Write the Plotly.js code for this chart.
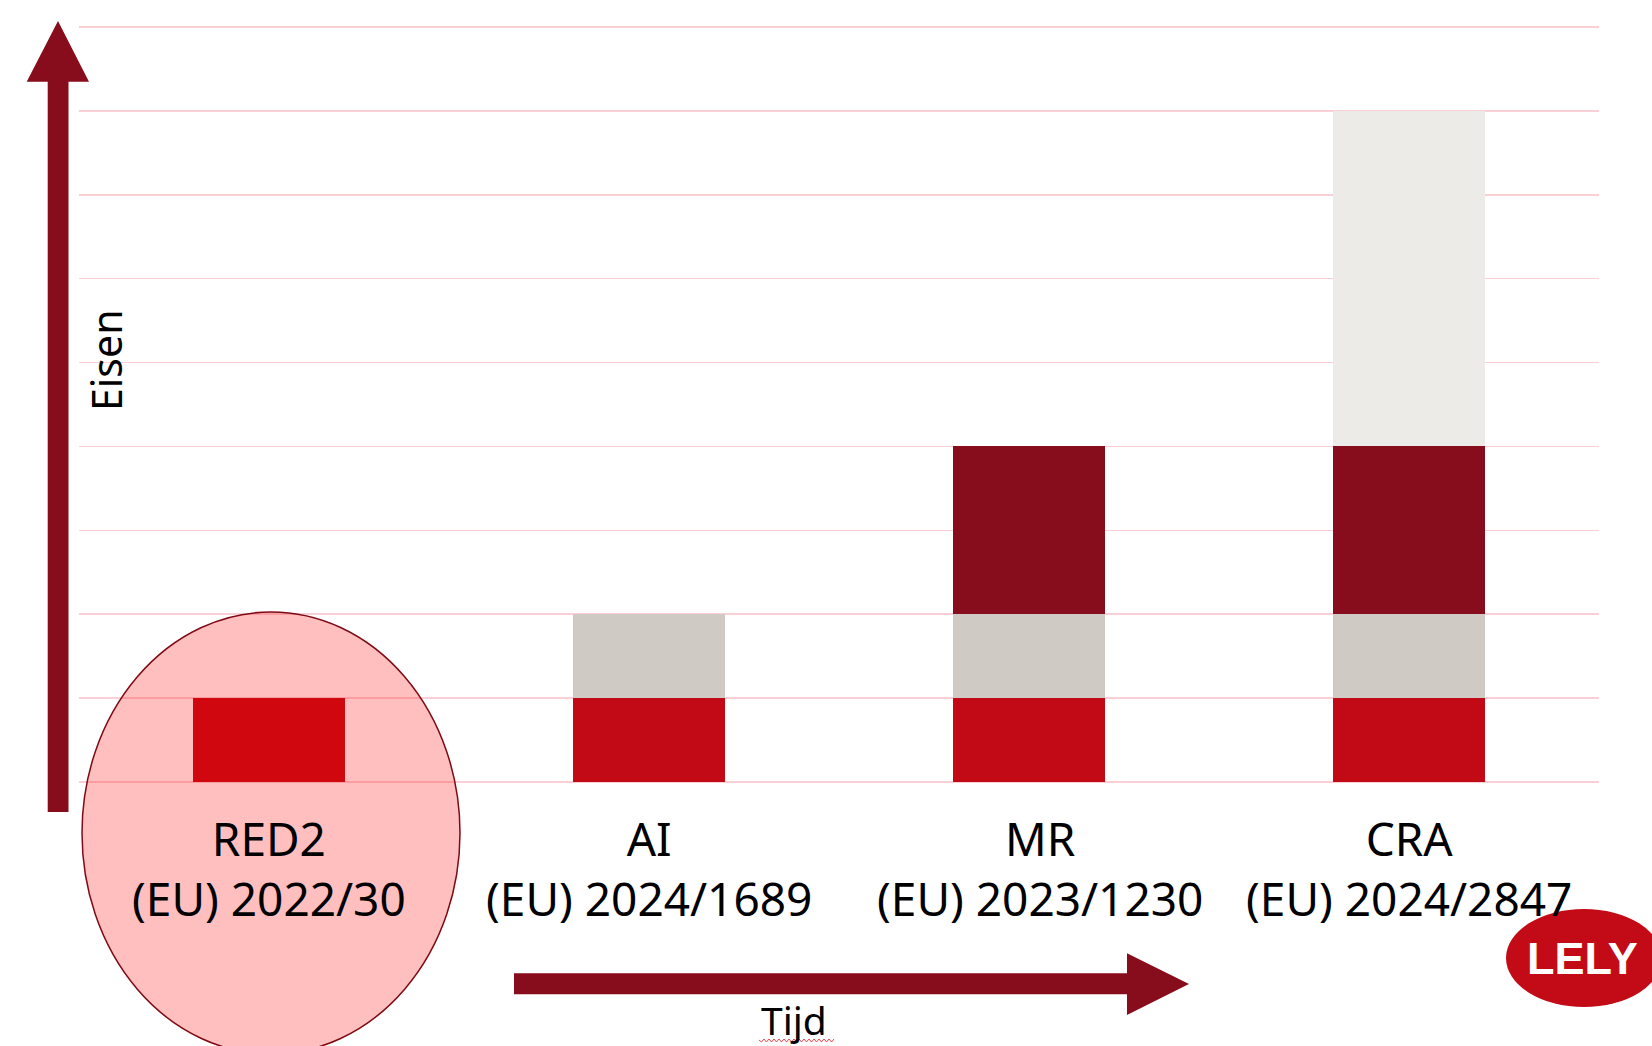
<!DOCTYPE html>
<html>
<head>
<meta charset="utf-8">
<script src="https://cdn.plot.ly/plotly-3.0.1.min.js"></script>
<style>
  html, body { margin: 0; padding: 0; background: #ffffff; }
  #chart { width: 1652px; height: 1046px; }
</style>
</head>
<body>
<div id="chart"></div>
<script>
// ---- data ----
const categories = ["RED2", "AI", "MR", "CRA"];
const regulationCodes = ["(EU) 2022/30", "(EU) 2024/1689", "(EU) 2023/1230", "(EU) 2024/2847"];
const layerBase      = [1, 1, 1, 1];   // red block
const layerSecond    = [0, 1, 1, 1];   // grey block
const layerThird     = [0, 0, 2, 2];   // dark red block
const layerFourth    = [0, 0, 0, 4];   // light grey block
const yAxisLabel = "Eisen";
const xAxisLabel = "Tijd";
const logoText = "LELY";

// ---- layout helpers (decoration positions in page pixels -> paper) ----
const W = 1652, H = 1046, ML = 79, MR = 53, MT = 26, MB = 264;
const PW = W - ML - MR, PH = H - MT - MB;
const px = x => (x - ML) / PW;
const py = y => (H - MB - y) / PH;
const pt = (x, y) => px(x).toFixed(5) + "," + py(y).toFixed(5);
const labelXShift = [0, 0, 11, 0];   // small horizontal nudges of the category labels (px)

const darkRed = "#870d1c";
const labelFont = { size: 46, family: "Noto Sans, Open Sans, sans-serif", color: "#000000" };

function bar(vals, color) {
  return {
    type: "bar", x: categories, y: vals, width: 0.4,
    marker: { color: color, line: { width: 0 } },
    hoverinfo: "skip", showlegend: false
  };
}

const traces = [
  bar(layerBase, "#c20a16"),
  bar(layerSecond, "#cfcbc4"),
  bar(layerThird, darkRed),
  bar(layerFourth, "#ecebe7")
];

// vertical arrow
const vArrow = "M" + pt(47.7, 812) + " L" + pt(68.5, 812) + " L" + pt(68.5, 81.7) +
  " L" + pt(89, 81.7) + " L" + pt(58, 21) + " L" + pt(26.7, 81.7) + " L" + pt(47.7, 81.7) + " Z";
// horizontal arrow
const hArrow = "M" + pt(514, 973.3) + " L" + pt(1127, 973.3) + " L" + pt(1127, 953.3) +
  " L" + pt(1189, 984) + " L" + pt(1127, 1015) + " L" + pt(1127, 994.3) + " L" + pt(514, 994.3) + " Z";
// spell-check squiggle under "Tijd"
let sq = "M" + pt(759, 1040);
for (let x = 761.5, i = 0; x <= 836; x += 2.5, i++) {
  sq += " L" + pt(x, i % 2 === 0 ? 1042 : 1039);
}

const annotations = [];
categories.forEach((c, i) => {
  annotations.push({ text: c + "<br>" + regulationCodes[i], xref: "x", yref: "paper", x: c, y: py(868),
    xanchor: "center", yanchor: "middle", xshift: labelXShift[i], showarrow: false, font: labelFont });
});
annotations.push(
  { text: yAxisLabel, xref: "paper", yref: "paper", x: px(106), y: py(361),
    xanchor: "center", yanchor: "middle", textangle: -90, showarrow: false,
    font: { size: 41, family: "Noto Sans, Open Sans, sans-serif", color: "#000000" } },
  { text: xAxisLabel, xref: "paper", yref: "paper", x: px(794), y: py(1019),
    xanchor: "center", yanchor: "middle", showarrow: false,
    font: { size: 39, family: "Noto Sans, Open Sans, sans-serif", color: "#000000" } },
  { text: "<b>" + logoText + "</b>", xref: "paper", yref: "paper", x: px(1582), y: py(958),
    xanchor: "center", yanchor: "middle", showarrow: false,
    font: { size: 45, family: "Liberation Sans Narrow, Liberation Sans, sans-serif", color: "#ffffff" } }
);

const layout = {
  width: W, height: H,
  margin: { l: ML, r: MR, t: MT, b: MB, pad: 0 },
  paper_bgcolor: "#ffffff", plot_bgcolor: "#ffffff",
  barmode: "stack", bargap: 0.6,
  font: { family: "Noto Sans, Open Sans, sans-serif", color: "#000000" },
  xaxis: {
    type: "category", categoryarray: categories,
    showticklabels: false, ticks: "", showgrid: false, zeroline: false, showline: false,
    fixedrange: true
  },
  yaxis: {
    range: [0, 9.012], dtick: 1, tick0: 0,
    showticklabels: false, ticks: "",
    showgrid: true, gridcolor: "#fad0d6", gridwidth: 1.5,
    zeroline: true, zerolinecolor: "#fad0d6", zerolinewidth: 1.5,
    showline: false, fixedrange: true
  },
  shapes: [
    { type: "path", xref: "paper", yref: "paper", path: vArrow, fillcolor: darkRed, line: { width: 0 }, layer: "above" },
    { type: "path", xref: "paper", yref: "paper", path: hArrow, fillcolor: darkRed, line: { width: 0 }, layer: "above" },
    { type: "path", xref: "paper", yref: "paper", path: sq, line: { color: "#e8474f", width: 1 }, layer: "above" },
    // highlighted RED2 ellipse (semi-transparent red over everything)
    { type: "circle", xref: "paper", yref: "paper",
      x0: px(82), x1: px(460), y0: py(1054), y1: py(612),
      fillcolor: "rgba(255,0,0,0.25)", line: { color: "#7d0a14", width: 1.5 }, layer: "above" },
    // logo ellipse
    { type: "circle", xref: "paper", yref: "paper",
      x0: px(1506), x1: px(1662), y0: py(1007), y1: py(909),
      fillcolor: "#c30b17", line: { width: 0 }, layer: "above" }
  ],
  annotations: annotations
};

Plotly.newPlot("chart", traces, layout, { displayModeBar: false, staticPlot: true });
</script>
</body>
</html>
